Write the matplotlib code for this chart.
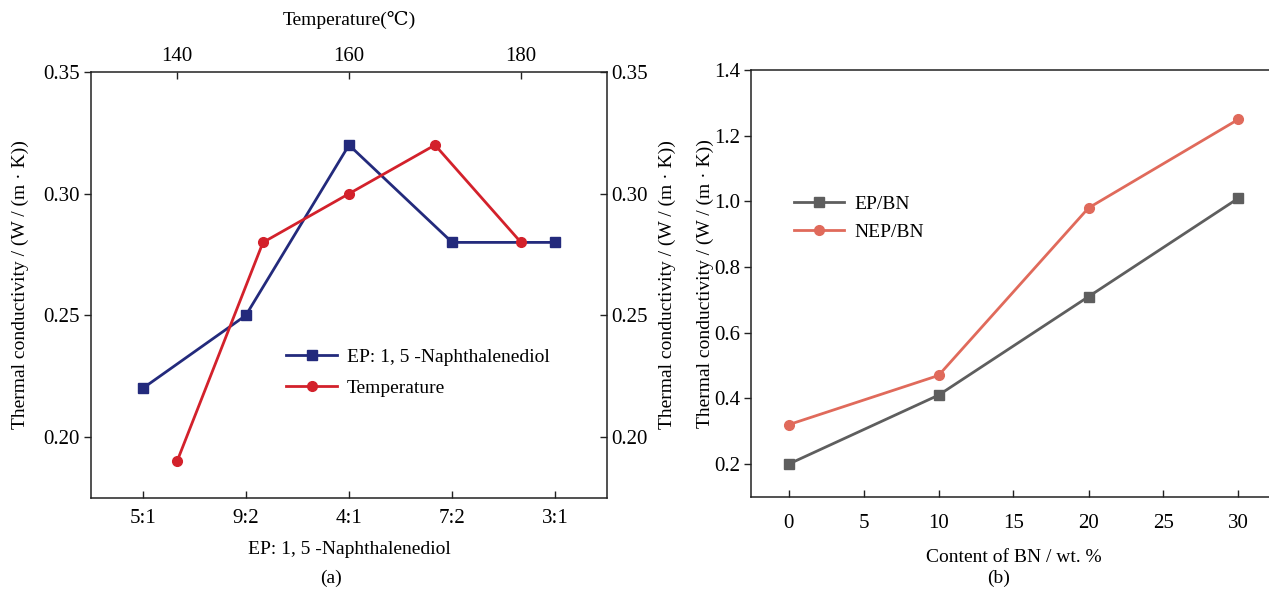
import matplotlib.pyplot as plt

plt.rcParams['font.family'] = ['Liberation Serif', 'DejaVu Serif']
plt.rcParams['font.size'] = 14

# panel (a)
ratio_labels = ["5:1", "9:2", "4:1", "7:2", "3:1"]
ratio_k = [0.22, 0.25, 0.32, 0.28, 0.28]
temps = [140, 150, 160, 170, 180]
temp_k = [0.19, 0.28, 0.30, 0.32, 0.28]

# panel (b)
bn_content = [0, 10, 20, 30]
ep_bn = [0.20, 0.41, 0.71, 1.01]
nep_bn = [0.32, 0.47, 0.98, 1.25]

blue = '#232a7c'
red = '#d3212b'
gray = '#5e5e5e'
salmon = '#e06a5b'
ylab = "Thermal conductivity / (W / (m \u00b7 K))"

W, H = 1269, 594
fig = plt.figure(figsize=(W / 100, H / 100), dpi=100)


def box(x0, y0, x1, y1):
    return [x0 / W, 1 - y1 / H, (x1 - x0) / W, (y1 - y0) / H]


def style(ax):
    for s in ax.spines.values():
        s.set_linewidth(1.1)
        s.set_color('#222222')
    ax.tick_params(width=1.0, length=5, color='#222222', labelsize=15)


# ---- (a)
ax1 = fig.add_axes(box(91, 72, 607, 498))
ax1.plot(range(len(ratio_labels)), ratio_k, color=blue, lw=2, marker='s', ms=7,
         label="EP: 1, 5 -Naphthalenediol")
ax1.set_xlim(-0.5, 4.5)
ax1.set_ylim(0.175, 0.35)
ax1.set_xticks(range(len(ratio_labels)))
ax1.set_xticklabels(ratio_labels)
ax1.set_yticks([0.20, 0.25, 0.30, 0.35])
ax1.set_yticklabels(["0.20", "0.25", "0.30", "0.35"])
style(ax1)
ax1.tick_params(axis='x', direction='in', pad=8)
ax1.tick_params(axis='y', direction='out', pad=3)
ax1.set_xlabel("EP: 1, 5 -Naphthalenediol", labelpad=9)
ax1.set_ylabel(ylab, labelpad=10)

ax2 = fig.add_axes(box(91, 72, 607, 498), frameon=False)
ax2.plot(temps, temp_k, color=red, lw=2, marker='o', ms=7, label="Temperature")
ax2.set_xlim(130, 190)
ax2.set_ylim(0.175, 0.35)
ax2.xaxis.tick_top()
ax2.xaxis.set_label_position('top')
ax2.yaxis.tick_right()
ax2.yaxis.set_label_position('right')
ax2.set_xticks([140, 160, 180])
ax2.set_yticks([0.20, 0.25, 0.30, 0.35])
ax2.set_yticklabels(["0.20", "0.25", "0.30", "0.35"])
style(ax2)
ax2.tick_params(axis='x', direction='in', pad=4)
ax2.tick_params(axis='y', direction='in', pad=3)
ax2.set_xlabel("Temperature(\u2103)", labelpad=16)
ax2.set_ylabel(ylab, labelpad=8)

h1, l1 = ax1.get_legend_handles_labels()
h2, l2 = ax2.get_legend_handles_labels()
ax2.legend(h1 + h2, l1 + l2, frameon=False, loc='upper left',
           bbox_to_anchor=(0.36, 0.375), handlelength=2.6, handletextpad=0.5,
           labelspacing=0.7, borderpad=0)

fig.text(331 / W, 1 - 578 / H, "(a)", ha='center', va='center')

# ---- (b)
ax3 = fig.add_axes(box(751, 70, 1276, 497))
ax3.plot(bn_content, ep_bn, color=gray, lw=2, marker='s', ms=7, label="EP/BN")
ax3.plot(bn_content, nep_bn, color=salmon, lw=2, marker='o', ms=7, label="NEP/BN")
ax3.set_xlim(-2.5, 32.5)
ax3.set_ylim(0.1, 1.4)
ax3.set_xticks([0, 5, 10, 15, 20, 25, 30])
ax3.set_yticks([0.2, 0.4, 0.6, 0.8, 1.0, 1.2, 1.4])
style(ax3)
ax3.tick_params(axis='x', direction='in', pad=12)
ax3.tick_params(axis='y', direction='out', pad=3)
ax3.set_xlabel("Content of BN / wt. %", labelpad=12)
ax3.set_ylabel(ylab, labelpad=0)
ax3.legend(frameon=False, loc='upper left', bbox_to_anchor=(0.063, 0.73),
           handlelength=2.6, handletextpad=0.5, labelspacing=0.55, borderpad=0)

fig.text(999 / W, 1 - 578 / H, "(b)", ha='center', va='center')

fig.savefig("out.png", dpi=100, facecolor='white')
